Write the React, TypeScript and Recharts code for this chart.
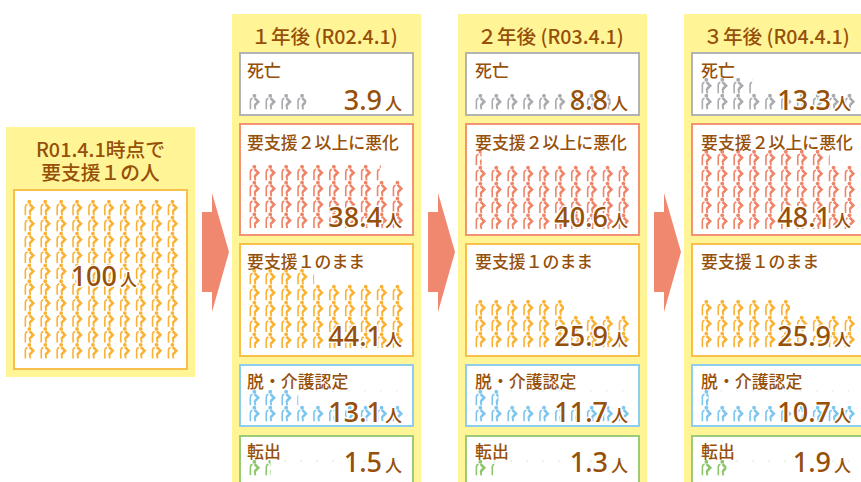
import React from "react";
import { ScatterChart, Scatter, XAxis, YAxis } from "recharts";

const startTitle = ["R01.4.1時点で", "要支援１の人"];
const startValue = 100;
const yearTitles = ["１年後 (R02.4.1)", "２年後 (R03.4.1)", "３年後 (R04.4.1)"];
const categories = ["死亡", "要支援２以上に悪化", "要支援１のまま", "脱・介護認定", "転出"];
const year1Values = [3.9, 38.4, 44.1, 13.1, 1.5];
const year2Values = [8.8, 40.6, 25.9, 11.7, 1.3];
const year3Values = [13.3, 48.1, 25.9, 10.7, 1.9];
const yearValues = [year1Values, year2Values, year3Values];
const unit = "人";

const TEXT = "#96500a";
const YELLOW = "#fff597";
const ORANGE = "#f9b233";
const colors = ["#a9abae", "#ee8468", ORANGE, "#7cc6ee", "#8cc56c"];
const borders = ["#b3b3b3", "#f29373", "#f8bf4b", "#8dcdf0", "#9ccb78"];
const ghosts = ["", "", "", "#e4f3fb", "#e6f2dd"];

const panelLefts = [232, 458, 684];
const boxTops = [52, 123, 243, 364, 435];
const boxBottoms = [116, 236, 357, 427, 484];
const titleCenters = [70, 142, 261, 381, 451];
const iconBottoms = [110, 229, 348, 422, 476];
const numberBottoms = [110, 227, 346, 422, 472];
const CELL = 15.9;

function toPoints(value: number) {
  const rows = Math.max(1, Math.ceil(value / 10));
  const pts = [];
  for (let i = 0; i < rows * 10; i++) {
    const frac = Math.max(0, Math.min(1, value - i));
    pts.push({ col: (i % 10) + 0.5, row: Math.floor(i / 10) + 0.5, frac, id: i });
  }
  return pts;
}

const Person = (props: any) => {
  const { cx, cy, payload, color, ghost, clip } = props;
  if (payload.frac === 0) {
    if (!ghost) return <g />;
    return <circle cx={cx - 0.5} cy={cy - 7} r={1} fill={ghost} />;
  }
  const cid = `${clip}-${payload.id}`;
  const partial = payload.frac < 1;
  return (
    <g clipPath={partial ? `url(#${cid})` : undefined}>
      {partial && (
        <clipPath id={cid}>
          <rect x={cx - 5} y={cy - 9} width={10 * payload.frac + 0.6} height={18} />
        </clipPath>
      )}
      <circle cx={cx + 0.4} cy={cy - 6.2} r={1.9} fill={color} />
      <path
        d={`M${cx - 1.4} ${cy - 3.6} Q${cx - 3.7} ${cy - 3} ${cx - 3.6} ${cy - 0.5} L${cx - 3.6} ${cy + 7.4}`}
        fill="none"
        stroke={color}
        strokeWidth={1.6}
      />
      <path
        d={`M${cx + 0.6} ${cy - 3.9} L${cx + 4.3} ${cy - 0.2} L${cx + 0.8} ${cy + 3.3}`}
        fill="none"
        stroke={color}
        strokeWidth={2.6}
      />
      <path d={`M${cx + 0.7} ${cy + 2.8} L${cx + 1.4} ${cy + 7.4}`} fill="none" stroke={color} strokeWidth={1.9} />
    </g>
  );
};

const Pictogram = ({ value, left, bottom, color, ghost, clip }: any) => {
  const points = toPoints(value);
  const rows = points.length / 10;
  const height = rows * CELL;
  return (
    <div style={{ position: "absolute", left, top: bottom - height, width: CELL * 10, height }}>
      <ScatterChart width={CELL * 10} height={height} margin={{ top: 0, right: 0, bottom: 0, left: 0 }} style={{ overflow: "visible" }}>
        <XAxis type="number" dataKey="col" domain={[0, 10]} hide />
        <YAxis type="number" dataKey="row" domain={[0, rows]} hide />
        <Scatter
          data={points}
          isAnimationActive={false}
          shape={(p: any) => <Person {...p} color={color} ghost={ghost} clip={clip} />}
        />
      </ScatterChart>
    </div>
  );
};

const Amount = ({ value, right, bottom }: any) => (
  <div
    style={{
      position: "absolute",
      right: 861 - right,
      top: bottom - 30,
      height: 30,
      display: "flex",
      alignItems: "flex-end",
      color: TEXT,
      whiteSpace: "nowrap",
    }}
  >
    <span
      style={{
        fontFamily: "'Noto Sans'",
        fontSize: 27,
        fontWeight: 500,
        lineHeight: "30px",
        height: 30,
        position: "relative",
        top: 5,
        WebkitTextStroke: "3px #fff",
        paintOrder: "stroke fill",
      }}
    >
      {value}
    </span>
    <span
      style={{
        fontSize: 17,
        fontWeight: 500,
        lineHeight: "17px",
        marginLeft: 3,
        position: "relative",
        top: 1,
        WebkitTextStroke: "3px #fff",
        paintOrder: "stroke fill",
      }}
    >
      {unit}
    </span>
  </div>
);

const Arrow = ({ left }: { left: number }) => (
  <svg style={{ position: "absolute", left, top: 193 }} width={28} height={120}>
    <polygon points="0,19 10,19 10,0 27,59 10,119 10,99 0,99" fill="#f08870" />
  </svg>
);

export default function App() {
  return (
    <div
      style={{
        position: "absolute",
        left: 0,
        top: 0,
        width: 861,
        height: 482,
        overflow: "hidden",
        background: "#fff",
        fontFamily: "'Noto Sans CJK JP', 'Noto Sans', sans-serif",
      }}
    >
      <div style={{ position: "absolute", left: 6, top: 127, width: 189, height: 250, background: YELLOW }} />
      <div
        style={{
          position: "absolute",
          left: 6,
          width: 189,
          top: 137,
          lineHeight: "23px",
          textAlign: "center",
          fontSize: 19.8,
          fontWeight: 500,
          color: TEXT,
        }}
      >
        {startTitle[0]}
        <br />
        {startTitle[1]}
      </div>
      <div
        style={{
          position: "absolute",
          left: 13,
          top: 189,
          width: 171,
          height: 177,
          background: "#fff",
          border: `2px solid ${borders[2]}`,
        }}
      />
      <Pictogram value={startValue} left={21.4} bottom={359} color={ORANGE} clip="start" />
      <Amount value={startValue} right={137} bottom={286} />

      <Arrow left={202} />
      <Arrow left={428} />
      <Arrow left={654} />

      {yearValues.map((values, y) => {
        const left = panelLefts[y];
        return (
          <React.Fragment key={y}>
            <div style={{ position: "absolute", left, top: 14, width: 189, height: 480, background: YELLOW }} />
            <div
              style={{
                position: "absolute",
                left: left - 2,
                top: 23,
                width: 189,
                height: 26,
                lineHeight: "26px",
                textAlign: "center",
                fontSize: 19.6,
                fontWeight: 500,
                color: TEXT,
                whiteSpace: "nowrap",
              }}
            >
              {yearTitles[y]}
            </div>
            {values.map((v, i) => (
              <React.Fragment key={categories[i]}>
                <div
                  style={{
                    position: "absolute",
                    left: left + 7,
                    top: boxTops[i],
                    width: 171,
                    height: boxBottoms[i] - boxTops[i] - 4,
                    background: "#fff",
                    border: `2px solid ${borders[i]}`,
                  }}
                />
                <Pictogram
                  value={v}
                  left={left + 14}
                  bottom={iconBottoms[i]}
                  color={colors[i]}
                  ghost={ghosts[i]}
                  clip={`p${y}c${i}`}
                />
                <div
                  style={{
                    position: "absolute",
                    left: left + (y === 0 ? 15 : 17),
                    top: titleCenters[i] - 12,
                    height: 24,
                    lineHeight: "24px",
                    fontSize: 16.9,
                    fontWeight: 500,
                    color: TEXT,
                    whiteSpace: "nowrap",
                  }}
                >
                  {categories[i]}
                </div>
                <Amount value={v} right={left + (y === 2 ? 167 : 170)} bottom={numberBottoms[i]} />
              </React.Fragment>
            ))}
          </React.Fragment>
        );
      })}
    </div>
  );
}
